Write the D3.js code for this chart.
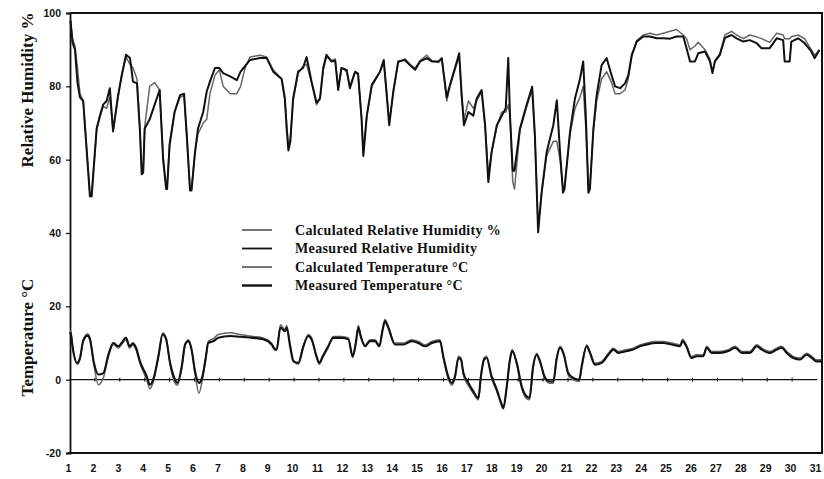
<!DOCTYPE html>
<html>
<head>
<meta charset="utf-8">
<script src="https://cdn.jsdelivr.net/npm/d3@7"></script>
<style>
  body { margin: 0; background: #fff; }
  svg { display: block; }
</style>
</head>
<body>
<svg id="chart" width="824" height="479"></svg>
<script>
// Day-of-month ticks and value-axis ticks
const dayTicks = d3.range(1, 32);
const valueTicks = [-20, 0, 20, 40, 60, 80, 100];

// Relative humidity (%) — sample times in days
const rhDays = [
  1.02, 1.1, 1.2, 1.3, 1.4, 1.53, 1.8, 1.87, 2.07, 2.2, 2.33, 2.47, 2.6, 2.73, 2.93,
  3.08, 3.25, 3.41, 3.53, 3.69, 3.81, 3.88, 3.94, 4.0, 4.2, 4.4, 4.6, 4.74, 4.86, 4.9,
  5.0, 5.2, 5.42, 5.58, 5.69, 5.82, 5.88, 6.02, 6.14, 6.35, 6.49, 6.62, 6.82, 7.0, 7.15,
  7.43, 7.7, 7.85, 8.03, 8.23, 8.63, 8.9, 9.16, 9.5, 9.63, 9.7, 9.77, 9.85, 9.96, 10.16,
  10.36, 10.5, 10.7, 10.9, 11.04, 11.17, 11.3, 11.5, 11.65, 11.77, 11.9, 12.11, 12.24, 12.45, 12.57,
  12.71, 12.78, 12.92, 13.12, 13.45, 13.6, 13.72, 13.82, 13.98, 14.18, 14.45, 14.65, 14.86, 15.06, 15.33,
  15.53, 15.8, 15.93, 16.13, 16.26, 16.46, 16.63, 16.73, 16.82, 17.0, 17.2, 17.33, 17.53, 17.67, 17.8,
  17.93, 18.14, 18.34, 18.5, 18.6, 18.67, 18.78, 18.85, 19.07, 19.34, 19.56, 19.67, 19.8, 19.94, 20.14,
  20.41, 20.55, 20.68, 20.8, 20.86, 21.08, 21.28, 21.48, 21.61, 21.72, 21.82, 21.88, 22.02, 22.15, 22.35,
  22.55, 22.75, 22.89, 23.09, 23.29, 23.42, 23.56, 23.76, 24.02, 24.29, 24.56, 24.83, 25.1, 25.36, 25.63,
  25.76, 25.9, 26.1, 26.23, 26.5, 26.7, 26.8, 26.9, 27.1, 27.3, 27.57, 27.77, 28.04, 28.3, 28.57,
  28.77, 29.1, 29.38, 29.64, 29.7, 29.9, 29.97, 30.24, 30.5, 30.77, 30.9, 31.1
];
const measuredRH = [
  98, 92, 90, 81, 77, 76, 50, 50, 68.5, 72, 75, 76, 79.5, 67.7, 77.5,
  83, 88.6, 87.7, 81.3, 80.8, 67.7, 56, 56.5, 68.5, 71, 75, 79, 60, 52, 52,
  64, 73, 77.6, 78, 66.7, 51.6, 51.6, 62, 68.5, 73, 78.6, 81.3, 85, 85, 83.6,
  82.7, 81.7, 84, 85.5, 87.2, 87.7, 87.7, 84, 82, 76.7, 68.5, 62.5, 65, 76.7, 84,
  85, 88, 81.3, 75.5, 76.7, 85, 88.6, 86.8, 87, 79, 85, 84.5, 79.5, 84, 83.5,
  71, 61, 72, 80.4, 84, 87.2, 77.6, 69.4, 78.5, 86.8, 87.2, 85.8, 84.5, 86.8, 87.7,
  86.8, 86.8, 87.7, 77, 80.4, 85, 89, 77.6, 69.4, 73, 72, 76.7, 79, 69.4, 53.9,
  62, 69.4, 72, 74, 87.7, 72, 57, 57, 68.5, 75, 79.9, 66.7, 40.2, 51, 62,
  69.4, 76.2, 62, 51, 52, 67.6, 76.7, 82, 86.8, 71, 51, 52, 68.5, 77.6, 85.8,
  87.7, 83, 80, 79.5, 80.8, 83, 88.6, 92.2, 93.6, 93.6, 93.1, 93.1, 93, 93.6, 93.6,
  90.4, 86.8, 86.8, 89, 89.5, 86.8, 83.6, 86.8, 88.6, 93.2, 94, 93.1, 92.2, 92.6, 91.8,
  90.4, 90.4, 93.1, 92.6, 86.8, 86.8, 92.2, 93.1, 91.8, 89.5, 87.7, 89.9
];
const calculatedRH = [
  98, 93, 91, 85, 78, 76, 51, 51, 68, 71.5, 74.5, 74, 77, 68, 77,
  83.5, 88, 86, 85, 82, 68, 57, 57, 69, 80, 81, 79, 61, 53, 53,
  64.5, 73, 77, 77.5, 66, 52, 52, 62, 67, 70, 71, 78, 83, 84.5, 80,
  78, 78, 80, 85, 88, 88.5, 88, 84.5, 82, 76, 70, 64, 66, 76, 83.5,
  85.5, 86, 81, 75, 76.5, 84.5, 88, 87, 87.5, 79.5, 85, 84, 80, 84, 83,
  71.5, 62, 72, 80, 84, 86.5, 78, 70, 78, 86.5, 87.5, 86, 85, 87, 88.5,
  87, 86.5, 87.5, 76, 80, 84.5, 88, 77, 71, 76, 74, 76, 78.5, 69, 56,
  62, 69, 73, 73, 75, 72, 54, 52, 68, 74.5, 79, 66, 42, 51, 61,
  65, 65, 60, 52, 53, 67, 74, 77, 80, 68, 52, 53, 68, 76, 82,
  84, 81, 78, 78, 79, 82, 88, 92.5, 94, 94.5, 94, 94.5, 95, 95.5, 94,
  93, 90, 91, 92, 90, 87.5, 84, 87, 89, 94, 95, 94, 93, 94, 93.5,
  93, 92, 94.5, 94, 93, 93, 93.5, 94, 93, 90, 88.5, 90
];

// Temperature (°C) — sample times in days
const tempDays = [
  1.0, 1.04, 1.1, 1.29, 1.4, 1.53, 1.7, 1.8, 1.96, 2.14, 2.34, 2.54, 2.74, 2.94, 3.07,
  3.25, 3.39, 3.52, 3.65, 3.81, 4.08, 4.21, 4.34, 4.55, 4.72, 4.86, 5.02, 5.22, 5.31, 5.49,
  5.62, 5.75, 5.88, 6.02, 6.18, 6.32, 6.46, 6.55, 6.76, 6.96, 7.43, 7.83, 8.36, 8.76, 9.1,
  9.23, 9.3, 9.45, 9.63, 9.7, 9.84, 9.97, 10.17, 10.37, 10.57, 10.7, 10.9, 11.01, 11.15, 11.37,
  11.57, 11.91, 12.18, 12.35, 12.48, 12.58, 12.67, 12.85, 13.05, 13.25, 13.42, 13.56, 13.65, 13.78, 14.05,
  14.39, 14.72, 14.99, 15.26, 15.53, 15.86, 15.99, 16.19, 16.33, 16.46, 16.6, 16.7, 16.8, 17.0, 17.2,
  17.4, 17.5, 17.63, 17.73, 17.93, 18.14, 18.34, 18.4, 18.54, 18.67, 18.76, 18.94, 19.14, 19.34, 19.45,
  19.6, 19.74, 19.87, 20.08, 20.28, 20.41, 20.54, 20.68, 20.83, 21.01, 21.21, 21.45, 21.55, 21.75, 21.88,
  22.08, 22.35, 22.62, 22.82, 23.02, 23.36, 23.62, 23.89, 24.16, 24.5, 24.83, 25.16, 25.5, 25.6, 25.75,
  25.96, 26.16, 26.43, 26.57, 26.77, 27.1, 27.44, 27.71, 27.98, 28.3, 28.58, 28.78, 29.11, 29.38, 29.58,
  29.78, 30.05, 30.32, 30.58, 30.8, 30.98, 31.18
];
const measuredTemp = [
  13, 12.3, 9.1, 4.6, 5.9, 10.5, 12, 11, 4.6, 1.4, 1.8, 6.8, 10, 9.1, 10,
  11.4, 9.1, 9.9, 8.7, 5, 0.9, -1.4, 0, 6.4, 12.3, 11, 4.6, 0, -0.9, 3.7,
  9.6, 10.5, 8.2, 2.3, -0.9, 0.9, 6.4, 10, 10.5, 11.4, 11.9, 11.7, 11.4, 11, 9.6,
  8.2, 8.2, 14.2, 13.2, 14.2, 9.1, 5, 4.6, 9.1, 11.9, 11, 6.4, 4.6, 6.4, 9.1,
  11.4, 11.4, 11, 6.4, 10, 14.2, 11.9, 9.1, 10.5, 10.5, 9.1, 13.7, 16, 14.2, 9.6,
  9.6, 10.5, 10, 9.1, 10, 10.5, 6.4, 0.9, -0.9, 0.9, 5.9, 5.5, 1.8, -0.9, -3.2,
  -5, 0.9, 5.5, 5.9, 0.9, -2.7, -6.8, -7.8, -1.8, 5.5, 7.8, 4.6, -1.8, -4.6, -5,
  3.7, 6.8, 5, 0.5, -0.5, -0.5, 5.5, 8.7, 6.8, 1.8, 0.5, 0, 3.7, 9.1, 7.3,
  4.1, 4.6, 6.8, 8.2, 7.3, 7.8, 8.2, 9.1, 9.6, 10, 10, 9.6, 9.1, 10.5, 9.1,
  5.9, 6.4, 6.4, 8.7, 7.3, 7.3, 7.8, 8.7, 7.3, 7.3, 9.1, 8.2, 7.3, 8.2, 8.7,
  7.3, 5.9, 5.5, 6.8, 5.9, 5, 5
];
const calculatedTemp = [
  13.5, 12.8, 9.5, 4.2, 5.5, 10.8, 12.5, 11.5, 4, -1.4, 0.5, 6.2, 9.6, 8.6, 9.6,
  10.8, 8.6, 9.4, 8.2, 4.4, 0, -2.5, -0.8, 6, 12.8, 11.4, 4, -1, -1.5, 3.2,
  9.2, 10.9, 8.6, 1.6, -3.7, 0.2, 6, 10.4, 11.2, 12.3, 12.8, 12.3, 11.8, 11.4, 9.9,
  8.6, 8.6, 15, 13.6, 14.8, 9.6, 5.4, 4.2, 8.7, 12.3, 11.4, 6, 4.2, 6, 8.7,
  11.8, 11.8, 11.4, 6, 10.4, 14.8, 12.3, 9.5, 10.9, 10.9, 9.5, 14.2, 16.4, 14.6, 10,
  10, 10.9, 10.4, 9.5, 10.4, 10.9, 6, 0.2, -1.5, 0.4, 6.4, 5.9, 1.2, -1.6, -3.8,
  -5.5, 0.4, 6, 6.4, 0.4, -3.2, -7.2, -8, -2.2, 5.9, 8.2, 4.2, -2.4, -5.2, -5.5,
  3.2, 7.2, 5.4, 0, -1, -1, 5.9, 9.1, 7.2, 1.2, 0, -0.5, 3.2, 9.5, 7.7,
  4.5, 5, 7.2, 8.6, 7.7, 8.2, 8.6, 9.5, 10, 10.4, 10.4, 10, 9.5, 11, 9.5,
  6.3, 6.8, 6.8, 9.1, 7.7, 7.7, 8.2, 9.1, 7.7, 7.7, 9.5, 8.6, 7.7, 8.6, 9.1,
  7.7, 6.3, 5.9, 7.2, 6.3, 5.4, 5.4
];

// Legend entries
const legendLabels = [
  "Calculated Relative Humidity %",
  "Measured Relative Humidity",
  "Calculated Temperature °C",
  "Measured Temperature °C"
];

const svg = d3.select("#chart");
const plot = { left: 70, right: 822, top: 13, bottom: 453 };

const x = d3.scaleLinear().domain([1, 31.2]).range([plot.left, plot.right]);
const y = d3.scaleLinear().domain([-20, 100]).range([plot.bottom, plot.top]);

const ink = "#111";
const calcInk = "#666";
const serif = "'Liberation Serif', 'DejaVu Serif', serif";
const sans = "'Liberation Sans', Arial, sans-serif";

// Frame: top, right and bottom borders
svg.append("path")
  .attr("d", `M${plot.left},${plot.top}H${plot.right}V${plot.bottom}H${plot.left - 2}`)
  .attr("fill", "none").attr("stroke", ink).attr("stroke-width", 2);

// Left value axis
const yAxis = svg.append("g")
  .attr("transform", `translate(${plot.left},0)`)
  .call(d3.axisLeft(y).tickValues(valueTicks).tickSize(4).tickPadding(5).tickFormat(d => String(d)));
yAxis.select(".domain").attr("stroke", ink).attr("stroke-width", 1.8);
yAxis.selectAll(".tick line").attr("stroke", ink).attr("stroke-width", 1.2);
yAxis.selectAll("text")
  .attr("font-family", sans).attr("font-weight", "bold").attr("font-size", 10.5).attr("fill", ink);

// Day axis labels under the plot
const xAxis = svg.append("g")
  .attr("transform", `translate(0,${plot.bottom})`)
  .call(d3.axisBottom(x).tickValues(dayTicks).tickSize(0).tickPadding(12).tickFormat(d => String(d)));
xAxis.select(".domain").remove();
xAxis.selectAll("text")
  .attr("font-family", sans).attr("font-weight", "bold").attr("font-size", 10.5).attr("fill", ink)
  .attr("dx", -2);

// Zero-degree reference line with day ticks
svg.append("line")
  .attr("x1", plot.left).attr("x2", x(31))
  .attr("y1", y(0)).attr("y2", y(0))
  .attr("stroke", ink).attr("stroke-width", 1.4);
svg.append("g").selectAll("line")
  .data(dayTicks.slice(1, 30))
  .join("line")
  .attr("x1", d => x(d)).attr("x2", d => x(d))
  .attr("y1", y(0) - 2).attr("y2", y(0) + 2)
  .attr("stroke", ink).attr("stroke-width", 1);

// Series lines
const rhLine = d3.line().x(d => x(d[0])).y(d => y(d[1]));
const tempLine = d3.line().x(d => x(d[0])).y(d => y(d[1])).curve(d3.curveMonotoneX);

const series = [
  { days: rhDays, values: calculatedRH, gen: rhLine, color: calcInk, width: 1.5 },
  { days: tempDays, values: calculatedTemp, gen: tempLine, color: calcInk, width: 1.5 },
  { days: rhDays, values: measuredRH, gen: rhLine, color: ink, width: 2 },
  { days: tempDays, values: measuredTemp, gen: tempLine, color: ink, width: 2.1 }
];
series.forEach(s => {
  svg.append("path")
    .datum(s.days.map((d, i) => [d, s.values[i]]))
    .attr("d", s.gen)
    .attr("fill", "none")
    .attr("stroke", s.color)
    .attr("stroke-width", s.width)
    .attr("stroke-linejoin", "round");
});

// Axis titles
svg.append("text")
  .attr("transform", `translate(33,${y(79)}) rotate(-90)`)
  .attr("text-anchor", "middle")
  .attr("font-family", serif).attr("font-weight", "bold").attr("font-size", 17).attr("fill", ink)
  .text("Relative Humidity %");
svg.append("text")
  .attr("transform", `translate(33,${y(11.5)}) rotate(-90)`)
  .attr("text-anchor", "middle")
  .attr("font-family", serif).attr("font-weight", "bold").attr("font-size", 17).attr("fill", ink)
  .text("Temperature °C");

// Legend
const legendStyles = [
  { color: calcInk, width: 1.8 },
  { color: ink, width: 1.8 },
  { color: calcInk, width: 1.8 },
  { color: ink, width: 2.4 }
];
const legend = svg.append("g").attr("transform", "translate(242,230)");
const rows = legend.selectAll("g")
  .data(legendLabels)
  .join("g")
  .attr("transform", (d, i) => `translate(0,${i * 18.5})`);
rows.append("line")
  .attr("x1", 0).attr("x2", 30).attr("y1", 0).attr("y2", 0)
  .attr("stroke", (d, i) => legendStyles[i].color)
  .attr("stroke-width", (d, i) => legendStyles[i].width);
rows.append("text")
  .attr("x", 53).attr("y", 4.5)
  .attr("font-family", serif).attr("font-weight", "bold").attr("font-size", 14)
  .attr("letter-spacing", 0.35).attr("fill", ink)
  .text(d => d);
</script>
</body>
</html>
